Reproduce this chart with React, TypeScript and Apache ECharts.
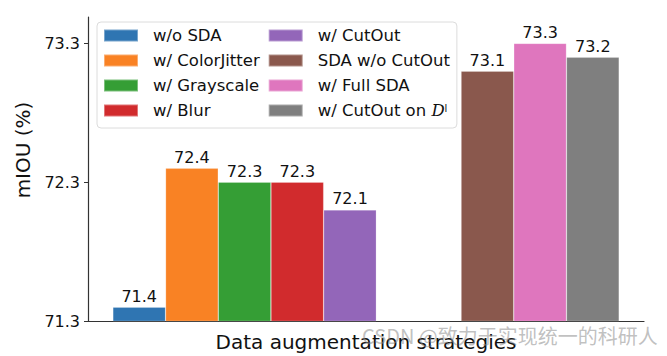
import React, { useEffect, useRef } from 'react';
import * as echarts from 'echarts';

const categories = [''];
const seriesNames = [
  'w/o SDA',
  'w/ ColorJitter',
  'w/ Grayscale',
  'w/ Blur',
  'w/ CutOut',
  'SDA w/o CutOut',
  'w/ Full SDA',
  'w/ CutOut on D',
];
const seriesValues = [71.4, 72.4, 72.3, 72.3, 72.1, 73.1, 73.3, 73.2];
const seriesColors = ['#2f75b2', '#f98224', '#359e35', '#d12b2d', '#9366b9', '#8a584d', '#df76be', '#7f7f7f'];
const yTicks = [71.3, 72.3, 73.3];
const yMin = 71.3;
const yMax = 73.49;

export default function App() {
  const ref = useRef<HTMLDivElement>(null);
  useEffect(() => {
    document.body.style.margin = '0';
    if (!ref.current) return;
    const chart = echarts.init(ref.current, null, { renderer: 'svg' });
    const barW = 52.7;
    const gapW = 84.7;
    const mk = (i: number) => ({
      type: 'bar',
      name: seriesNames[i],
      data: [seriesValues[i]],
      barWidth: barW,
      barGap: '0%',
      itemStyle: { color: seriesColors[i], borderColor: 'rgba(255,255,255,0.35)', borderWidth: 0.6 },
      label: {
        show: true,
        position: 'top',
        distance: 3,
        fontSize: 16,
        color: '#111',
        fontFamily: 'DejaVu Sans',
        formatter: (p: any) => Number(p.value).toFixed(1),
      },
    });
    const series: any[] = [];
    for (let i = 0; i < 5; i++) series.push(mk(i));
    series.push({
      type: 'bar',
      name: '__gap',
      data: ['-'],
      barWidth: gapW,
      barGap: '0%',
      silent: true,
      itemStyle: { color: 'transparent' },
    });
    for (let i = 5; i < 8; i++) series.push(mk(i));

    chart.setOption({
      animation: false,
      textStyle: { fontFamily: 'DejaVu Sans' },
      color: seriesColors,
      grid: { left: 88, right: 23, top: 17, bottom: 35, containLabel: false, outerBoundsMode: 'none' },
      legend: {
        data: seriesNames.map((n) => ({ name: n, icon: 'rect' })),
        orient: 'vertical',
        left: 97,
        top: 22,
        height: 100,
        padding: [5, 7, 9, 6],
        itemWidth: 34,
        itemHeight: 12,
        itemGap: 8,
        borderColor: '#dcdcdc',
        borderWidth: 1,
        borderRadius: 4,
        backgroundColor: 'rgba(255,255,255,0.9)',
        textStyle: {
          fontSize: 16.5,
          color: '#111',
          fontFamily: 'DejaVu Sans',
          lineHeight: 15,
          padding: [0, 0, 0, 10],
          rich: {
            d: { fontFamily: 'DejaVu Serif', fontStyle: 'italic', fontSize: 16.5, color: '#111' },
            s: { fontSize: 10, color: '#111', verticalAlign: 'top', lineHeight: 10 },
          },
        },
        formatter: (name: string) => (name === 'w/ CutOut on D' ? 'w/ CutOut on {d|D}{s|l}' : name),
      },
      xAxis: {
        type: 'category',
        data: categories,
        axisTick: { show: false },
        axisLabel: { show: false },
        axisLine: { lineStyle: { color: '#333', width: 1.2 } },
        name: 'Data augmentation strategies',
        nameLocation: 'middle',
        nameGap: 11,
        nameTextStyle: { fontSize: 20, color: '#111' },
      },
      yAxis: {
        type: 'value',
        min: yMin,
        max: yMax,
        splitLine: { show: false },
        axisLine: { show: true, lineStyle: { color: '#333', width: 1.2 } },
        axisTick: { show: true, length: 4, customValues: yTicks, lineStyle: { color: '#333' } },
        axisLabel: {
          customValues: yTicks,
          formatter: (v: number) => v.toFixed(1),
          fontSize: 16,
          color: '#111',
          margin: 8,
        },
        name: 'mIOU (%)',
        nameLocation: 'middle',
        nameGap: 45,
        nameTextStyle: { fontSize: 20, color: '#111', padding: [0, 0, 0, 38] },
      },
      graphic: [
        {
          type: 'text',
          left: 362,
          top: 325,
          z: 100,
          style: {
            text: 'CSDN @致力于实现统一的科研人',
            fontSize: 20,
            fontFamily: 'Noto Sans CJK SC',
            fill: 'rgba(140,140,140,0.55)',
          },
        },
      ],
      series,
    });
    return () => chart.dispose();
  }, []);
  return <div ref={ref} style={{ width: 667, height: 356 }} />;
}
